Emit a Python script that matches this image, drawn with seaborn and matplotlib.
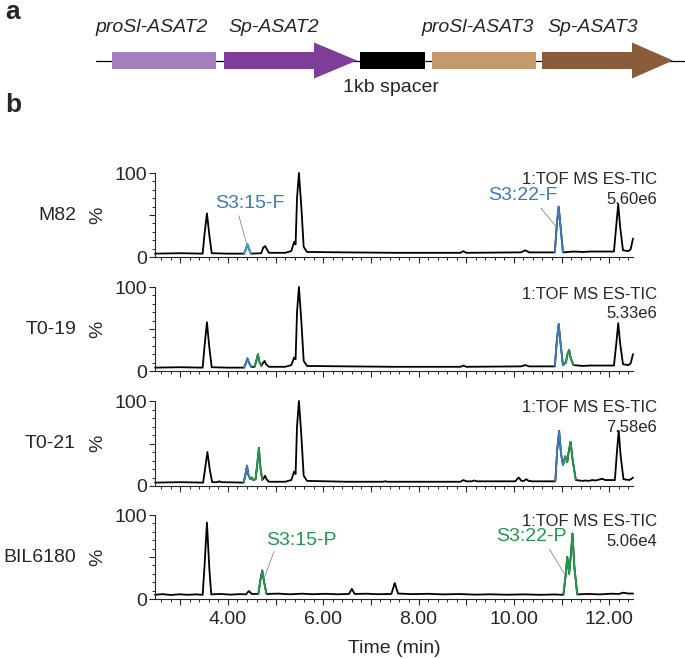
import numpy as np
import pandas as pd
import matplotlib.pyplot as plt
from matplotlib.patches import Rectangle, Polygon
from matplotlib.ticker import MultipleLocator
import seaborn as sns

sns.set_style('ticks')
plt.rcParams['font.family'] = ['Liberation Sans', 'DejaVu Sans']
plt.rcParams['axes.linewidth'] = 0.8

W, H = 685, 659

# === panel a: construct ===
part_names = ['proSl-ASAT2', 'Sp-ASAT2', '1kb spacer', 'proSl-ASAT3', 'Sp-ASAT3']
part_start = [112, 224, 360, 432, 542]
part_end = [216, 357, 425, 536, 673]
part_head = [None, 314, None, None, 632]
part_colors = ['#a67fbe', '#7e3d97', '#000000', '#c49a6c', '#8b5c3b']
label_x = [152, 274, 391, 478, 593]

# === panel b: chromatograms (time in min, % of max) ===
samples = ['M82', 'T0-19', 'T0-21', 'BIL6180']
tic_scale = ['5.60e6', '5.33e6', '7.58e6', '5.06e4']

m82_time = [2.47, 3.00, 3.47, 3.51, 3.56, 3.61, 3.66, 4.00, 4.34, 4.38, 4.41, 4.44, 4.48,
            4.70, 4.74, 4.78, 4.82, 4.86, 5.20, 5.33, 5.39, 5.42, 5.45, 5.49, 5.54, 5.59,
            5.66, 6.50, 7.50, 8.88, 8.94, 9.00, 10.15, 10.24, 10.32, 10.86, 10.90, 10.94,
            10.98, 11.03, 11.25, 11.45, 11.60, 12.10, 12.15, 12.19, 12.23, 12.29, 12.40,
            12.45, 12.50]
m82_pct = [4, 4.5, 4, 28, 52, 26, 4.5, 4, 4, 10, 15, 10, 4,
           4.5, 11, 13, 9, 5, 5, 7, 18, 15, 70, 100, 60, 12,
           6, 5.5, 5, 5, 7, 5, 5.5, 8, 5.5, 5.5, 38, 60,
           36, 5.5, 6.5, 6, 6.5, 6.5, 38, 63, 36, 8, 7,
           9, 22]

t019_time = [2.47, 3.00, 3.47, 3.51, 3.56, 3.61, 3.66, 4.00, 4.34, 4.38, 4.41, 4.44, 4.49,
             4.56, 4.60, 4.63, 4.66, 4.70, 4.74, 4.77, 4.80, 4.86, 5.20, 5.33, 5.39, 5.42,
             5.45, 5.49, 5.54, 5.59, 5.66, 6.50, 7.50, 8.88, 8.94, 9.00, 10.15, 10.24,
             10.32, 10.86, 10.90, 10.94, 10.98, 11.03, 11.09, 11.13, 11.16, 11.19, 11.25,
             11.45, 11.60, 12.10, 12.15, 12.19, 12.23, 12.29, 12.40, 12.45, 12.50]
t019_pct = [4, 4.5, 4, 30, 58, 28, 4.5, 4, 4, 10, 15, 10, 5,
            5, 13, 20, 11, 6, 10, 12, 8, 5, 5, 7, 16, 14,
            70, 100, 60, 12, 6, 5.5, 5, 5, 6.5, 5, 5.5, 7,
            5.5, 5.5, 35, 56, 33, 7, 10, 21, 25, 16, 7,
            6, 6.5, 6.5, 33, 57, 33, 8, 7, 9, 20]

t021_time = [2.47, 3.00, 3.48, 3.52, 3.57, 3.62, 3.67, 3.78, 3.82, 3.86, 4.33, 4.37, 4.40,
             4.43, 4.47, 4.50, 4.53, 4.58, 4.62, 4.65, 4.68, 4.72, 4.75, 4.78, 4.81, 4.86,
             5.20, 5.33, 5.39, 5.42, 5.45, 5.49, 5.54, 5.59, 5.66, 6.50, 7.25, 7.30, 7.35,
             8.30, 8.88, 8.94, 9.00, 9.12, 9.17, 9.22, 10.03, 10.10, 10.16, 10.21, 10.26,
             10.31, 10.39, 10.45, 10.87, 10.91, 10.95, 10.99, 11.03, 11.08, 11.12, 11.15,
             11.19, 11.23, 11.30, 11.45, 11.50, 11.56, 11.65, 11.72, 11.85, 11.92, 12.12,
             12.16, 12.20, 12.24, 12.30, 12.42, 12.47, 12.50]
t021_pct = [4, 4.5, 4, 20, 40, 19, 4.5, 4.5, 5.5, 4.5, 4, 14, 24,
            13, 8, 10, 7, 8, 28, 45, 23, 7, 9, 12, 8, 5,
            5, 7, 17, 14, 70, 100, 60, 12, 6, 5, 5, 5.5, 5,
            5, 5, 7, 5.5, 5.5, 6.5, 5.5, 5.5, 10, 6, 6, 8,
            6, 5.5, 5.5, 5.5, 43, 65, 38, 25, 35, 28, 40,
            52, 32, 7, 6, 6.5, 6, 7, 6.5, 8.5, 7, 7,
            38, 65, 36, 8, 7, 8.5, 10]

bil_time = [2.47, 2.62, 2.80, 2.98, 3.15, 3.32, 3.47, 3.51, 3.56, 3.61, 3.65, 3.85, 4.05,
            4.25, 4.38, 4.44, 4.50, 4.64, 4.68, 4.72, 4.76, 4.81, 5.05, 5.30, 5.55, 5.80,
            6.05, 6.30, 6.54, 6.60, 6.66, 6.90, 7.15, 7.43, 7.50, 7.57, 7.85, 8.20, 8.50,
            8.85, 9.20, 9.50, 9.85, 10.20, 10.55, 10.85, 11.04, 11.09, 11.12, 11.16, 11.20,
            11.23, 11.27, 11.33, 11.55, 11.80, 12.05, 12.20, 12.30, 12.40, 12.50]
bil_pct = [5, 5.8, 4.8, 5.6, 5.0, 5.5, 5, 40, 91, 36, 5.5, 6.0, 5.2,
           5.8, 5.5, 9.5, 6, 6, 22, 34, 20, 6, 6.4, 5.6, 6.3, 5.7,
           6.2, 5.6, 6, 12, 6, 6.3, 5.7, 6, 19, 6.5, 5.8, 6.2, 5.5,
           5.9, 5.2, 5.6, 5.1, 5.5, 5.0, 5.4, 5, 30, 50, 30, 55,
           78, 38, 5.5, 6.0, 5.5, 6.3, 6, 7.5, 6.5, 6.5]

# highlighted acylsugar peaks
m82_f15_time = [4.34, 4.38, 4.41, 4.44, 4.48]
m82_f15_pct = [4, 10, 15, 10, 4]
m82_f22_time = [10.86, 10.90, 10.94, 10.98, 11.03]
m82_f22_pct = [5.5, 38, 60, 36, 5.5]

t019_f15_time = [4.34, 4.38, 4.41, 4.44, 4.49]
t019_f15_pct = [4, 10, 15, 10, 5]
t019_p15_time = [4.56, 4.60, 4.63, 4.66, 4.70]
t019_p15_pct = [5, 13, 20, 11, 6]
t019_f22_time = [10.86, 10.90, 10.94, 10.98, 11.03]
t019_f22_pct = [5.5, 35, 56, 33, 7]
t019_p22_time = [11.03, 11.09, 11.13, 11.16, 11.19, 11.25]
t019_p22_pct = [7, 10, 21, 25, 16, 7]

t021_f15_time = [4.33, 4.37, 4.40, 4.43, 4.47]
t021_f15_pct = [4, 14, 24, 13, 8]
t021_p15_time = [4.47, 4.50, 4.53, 4.58, 4.62, 4.65, 4.68, 4.72]
t021_p15_pct = [8, 10, 7, 8, 28, 45, 23, 7]
t021_f22_time = [10.87, 10.91, 10.95, 10.99, 11.03]
t021_f22_pct = [5.5, 43, 65, 38, 25]
t021_p22_time = [11.03, 11.08, 11.12, 11.15, 11.19, 11.23, 11.30]
t021_p22_pct = [25, 35, 28, 40, 52, 32, 7]

bil_p15_time = [4.64, 4.68, 4.72, 4.76, 4.81]
bil_p15_pct = [6, 22, 34, 20, 6]
bil_p22_time = [11.04, 11.09, 11.12, 11.16, 11.20, 11.23, 11.27, 11.33]
bil_p22_pct = [5, 30, 50, 30, 55, 78, 38, 5.5]

CYAN = '#2ea3dc'
BLUE = '#3a7cc1'
GREEN = '#1f9a4b'

traces = {
    'M82': (m82_time, m82_pct),
    'T0-19': (t019_time, t019_pct),
    'T0-21': (t021_time, t021_pct),
    'BIL6180': (bil_time, bil_pct),
}
highlights = {
    'M82': [(CYAN, m82_f15_time, m82_f15_pct), (BLUE, m82_f22_time, m82_f22_pct)],
    'T0-19': [(BLUE, t019_f15_time, t019_f15_pct), (GREEN, t019_p15_time, t019_p15_pct),
              (BLUE, t019_f22_time, t019_f22_pct), (GREEN, t019_p22_time, t019_p22_pct)],
    'T0-21': [(BLUE, t021_f15_time, t021_f15_pct), (GREEN, t021_p15_time, t021_p15_pct),
              (BLUE, t021_f22_time, t021_f22_pct), (GREEN, t021_p22_time, t021_p22_pct)],
    'BIL6180': [(GREEN, bil_p15_time, bil_p15_pct), (GREEN, bil_p22_time, bil_p22_pct)],
}
# label text, colour, text (x, y), leader line start, leader line end
annotations = {
    'M82': [('S3:15-F', BLUE, (4.46, 64), (4.23, 49), (4.40, 14)),
            ('S3:22-F', BLUE, (10.18, 73), (10.57, 58), (10.89, 36))],
    'BIL6180': [('S3:15-P', GREEN, (5.54, 70), (4.97, 57), (4.76, 25)),
                ('S3:22-P', GREEN, (10.37, 74), (10.75, 59), (11.06, 30))],
}

fig = plt.figure(figsize=(W / 100, H / 100), dpi=100)

# ---- panel a ----
axa = fig.add_axes([0, 1 - 130 / H, 1, 130 / H])
axa.set_xlim(0, W)
axa.set_ylim(130, 0)
axa.axis('off')
line_y = 60.5
axa.plot([96, W], [line_y, line_y], color='black', lw=0.9, zorder=1)
for name, x0, x1, hx, col, lx in zip(part_names, part_start, part_end, part_head,
                                     part_colors, label_x):
    if hx is None:
        axa.add_patch(Rectangle((x0, line_y - 8.5), x1 - x0, 17, color=col, lw=0, zorder=2))
    else:
        pts = [(x0, line_y - 8.5), (hx, line_y - 8.5), (hx, line_y - 18), (x1, line_y),
               (hx, line_y + 18), (hx, line_y + 8.5), (x0, line_y + 8.5)]
        axa.add_patch(Polygon(pts, closed=True, color=col, lw=0, zorder=2))
    if name == '1kb spacer':
        axa.text(lx, 88, name, ha='center', va='center', fontsize=14)
    else:
        axa.text(lx, 27, name, ha='center', va='center', fontsize=14, style='italic')

fig.text(5 / W, 1 - 19 / H, 'a', fontsize=19, fontweight='bold', va='baseline')
fig.text(5 / W, 1 - 112 / H, 'b', fontsize=19, fontweight='bold', va='baseline')

# ---- panel b ----
panel_top = [173, 287, 401, 515]
panel_bot = [257, 371, 486, 599]
ax_left, ax_right = 155, 633
ax_w = ax_right - ax_left

for i, name in enumerate(samples):
    hpx = panel_bot[i] - panel_top[i]
    ax = fig.add_axes([ax_left / W, 1 - panel_bot[i] / H, ax_w / W, hpx / H])
    t, v = traces[name]
    sns.lineplot(x=t, y=v, ax=ax, color='black', lw=1.3, estimator=None, sort=False)
    for col, ht, hv in highlights[name]:
        sns.lineplot(x=ht, y=hv, ax=ax, color=col, lw=1.3, estimator=None, sort=False)
    for txt, col, (tx, ty), (x0, y0), (x1, y1) in annotations.get(name, []):
        ax.plot([x0, x1], [y0, y1], color='#8a8a8a', lw=0.6)
        ax.text(tx, ty, txt, color=col, fontsize=14, ha='center', va='center')
    for ln in ax.lines:
        ln.set_clip_on(False)

    ax.set_xlim(2.47, 12.5)
    ax.set_ylim(0, 100)
    ax.set_yticks([0, 50, 100])
    ax.set_yticklabels(['0', '', '100'])
    ax.yaxis.set_minor_locator(MultipleLocator(10))
    ax.set_xticks(range(3, 13))
    ax.xaxis.set_minor_locator(MultipleLocator(0.2))
    ax.tick_params(which='major', length=4, width=0.8, labelsize=14, pad=2)
    ax.tick_params(which='minor', length=2, width=0.7)
    sns.despine(ax=ax)

    ax.set_ylabel('%', fontsize=14)
    ax.yaxis.set_label_coords((106 - ax_left) / ax_w, 0.5)
    ax.text((76 - ax_left) / ax_w, 0.5, name, transform=ax.transAxes,
            ha='right', va='center', fontsize=14)
    ax.text((657 - ax_left) / ax_w, 1 - 7 / hpx, '1:TOF MS ES-TIC', transform=ax.transAxes,
            ha='right', va='center', fontsize=12)
    ax.text((657 - ax_left) / ax_w, 1 - 26 / hpx, tic_scale[i], transform=ax.transAxes,
            ha='right', va='center', fontsize=12)

    if i == len(samples) - 1:
        ax.set_xticklabels(['', '4.00', '', '6.00', '', '8.00', '', '10.00', '', '12.00'])
        ax.tick_params(axis='x', which='major', pad=5)
        ax.set_xlabel('Time (min)', fontsize=14, labelpad=8)
    else:
        ax.set_xticklabels([])
        ax.set_xlabel('')

fig.savefig('out.png', dpi=100)
